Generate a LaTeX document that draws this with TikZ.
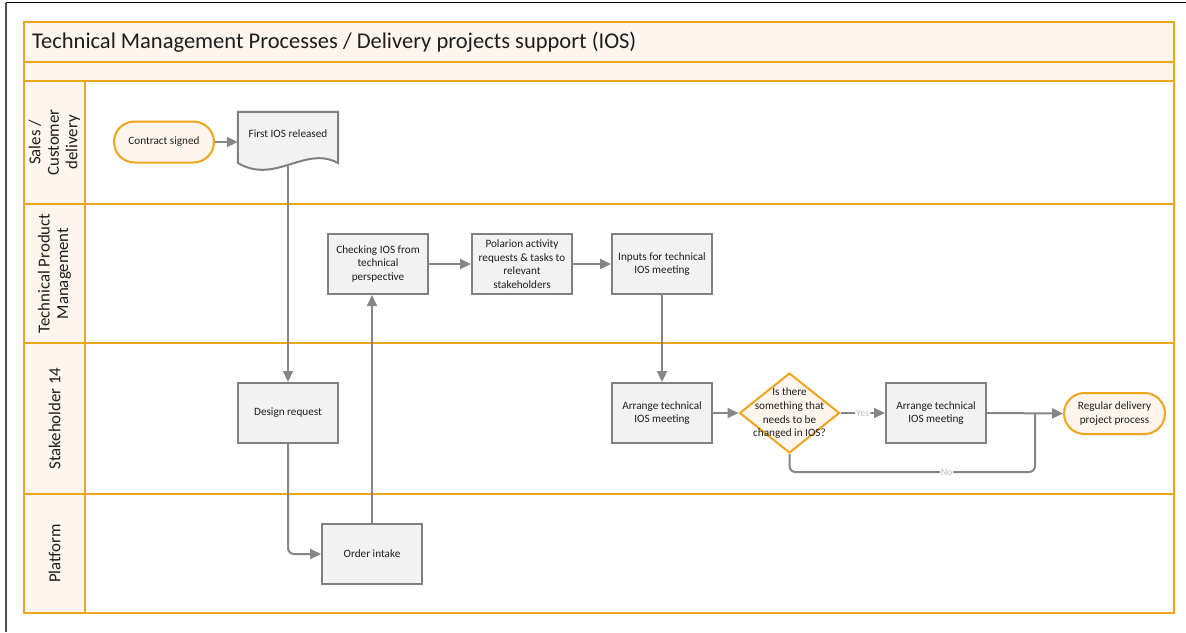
\documentclass[tikz,border=0pt]{standalone}
\usepackage{fontspec}
\setmainfont{Carlito}
\usetikzlibrary{arrows.meta,shapes.geometric}

\definecolor{poolline}{RGB}{237,165,25}
\definecolor{poolfill}{RGB}{253,245,238}
\definecolor{boxfill}{RGB}{242,242,242}
\definecolor{boxline}{RGB}{128,128,128}
\definecolor{flowgray}{RGB}{134,134,134}
\definecolor{taggray}{RGB}{190,190,190}
\definecolor{inkgray}{RGB}{30,30,30}
\definecolor{framegray}{RGB}{80,80,80}

\begin{document}
\begin{tikzpicture}[x=1pt,y=-1pt,
  nodefont/.style={font=\fontsize{11.2}{13.7}\selectfont, text=inkgray},
  task/.style={nodefont, draw=boxline, line width=2pt, fill=boxfill,
    minimum width=100pt, minimum height=60pt, align=center, inner sep=2pt},
  terminal/.style={nodefont, draw=poolline, line width=2pt, fill=poolfill,
    rounded corners=20.5pt, minimum height=41pt, align=center, inner sep=2pt},
  decision/.style={diamond, draw=poolline, line width=2pt, fill=poolfill,
    minimum width=100pt, minimum height=80pt, inner sep=0pt},
  lanetitle/.style={rotate=90, align=center, text=inkgray,
    font=\fontsize{16.8}{18.5}\selectfont},
  flow/.style={draw=flowgray, line width=2pt, rounded corners=6pt,
    -{Triangle[length=11pt,width=10pt]}},
  flowplain/.style={draw=flowgray, line width=2pt, rounded corners=6pt},
  tag/.style={font=\fontsize{10}{12}\selectfont, text=taggray, fill=white, inner sep=1pt},
  pool/.style={draw=poolline, line width=2.5pt}
]
\useasboundingbox (0,0) rectangle (1186,632);

% outer frame
\draw[black, line width=1.6pt] (6,2.5) -- (1186,2.5);
\draw[framegray, line width=1.6pt] (6,2.5) -- (6,632);

% pool background bands
\fill[poolfill] (24,22) rectangle (1174,81);
\fill[poolfill] (24,81) rectangle (85,613);

% pool lines
\draw[pool] (24,22) rectangle (1174,613);
\draw[pool] (24,62) -- (1174,62);
\draw[pool] (24,81) -- (1174,81);
\draw[pool] (24,204) -- (1174,204);
\draw[pool] (24,343) -- (1174,343);
\draw[pool] (24,494) -- (1174,494);
\draw[pool] (85,81) -- (85,613);

% pool title
\node[anchor=west, text=inkgray, font=\fontsize{22.5}{24}\selectfont, inner sep=0pt]
  (pooltitle) at (32,42) {Technical Management Processes / Delivery projects support (IOS)};

% lane titles
\node[lanetitle] (laneSales) at (54.5,142.5) {Sales /\\Customer\\delivery};
\node[lanetitle] (laneTPM)   at (54.5,273.5) {Technical Product\\Management};
\node[lanetitle] (laneStake) at (54.5,418.5) {Stakeholder 14};
\node[lanetitle] (lanePlat)  at (54.5,553.5) {Platform};

% sales lane
\node[terminal, minimum width=100pt] (contract) at (164,142) {Contract signed};
\node[inner sep=0pt, minimum width=100pt, minimum height=53pt] (doc) at (288,138.5) {};
\draw[draw=boxline, line width=2pt, fill=boxfill]
  (doc.north west) -- (doc.north east) -- (338,163)
  .. controls (305,145) and (275,185) .. (238,163) -- cycle;
\node[nodefont] (doctext) at (288,134) {First IOS released};

% technical product management lane
\node[task] (check)  at (378,264) {Checking IOS from\\technical\\perspective};
\node[task] (polar)  at (522,264) {Polarion activity\\requests \& tasks to\\relevant\\stakeholders};
\node[task] (inputs) at (662,264) {Inputs for technical\\IOS meeting};

% stakeholder lane
\node[task] (design) at (288,413) {Design request};
\node[task] (arrA)   at (662,413) {Arrange technical\\IOS meeting};
\node[decision] (dec) at (789.5,413) {};
\node[nodefont, align=center] (dectext) at (789.5,413.5) {Is there\\something that\\needs to be\\changed in IOS?};
\node[task] (arrB)   at (936,413) {Arrange technical\\IOS meeting};
\node[terminal, minimum width=101pt] (regular) at (1114.5,413.5) {Regular delivery\\project process};

% platform lane
\node[task] (order) at (372,554) {Order intake};

% connectors
\coordinate (join) at (1035,413);
\coordinate (nolow) at (1035,472);

\draw[flow] (contract.east) -- (doc.west |- contract.east);
\draw[flow] (doc.south) -- (design.north);
\draw[flow] (design.south) |- (order.west);
\draw[flow] (order.north) -- (order.north |- check.south);
\draw[flow] (check.east) -- (polar.west);
\draw[flow] (polar.east) -- (inputs.west);
\draw[flow] (inputs.south) -- (arrA.north);
\draw[flow] (arrA.east) -- (dec.west);
\draw[flow] (dec.east) -- node[tag] {Yes} (arrB.west);
\draw[flow] (arrB.east) -- (regular.west);
\draw[flowplain] (dec.south) -- (dec.south |- nolow) -- node[tag, pos=0.64] {No} (nolow) -- (join);

\end{tikzpicture}
\end{document}
